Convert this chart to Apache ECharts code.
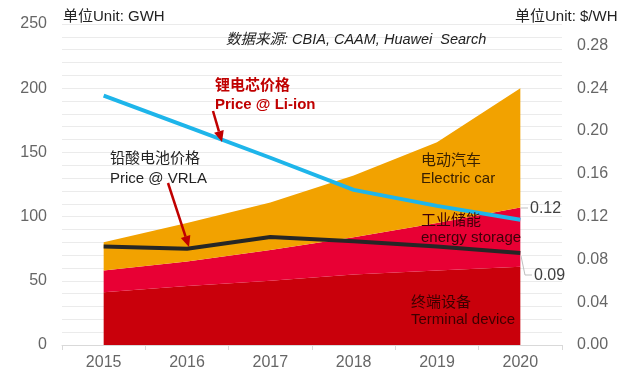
<!DOCTYPE html>
<html>
<head>
<meta charset="utf-8">
<script src="https://cdn.jsdelivr.net/npm/echarts@6/dist/echarts.min.js"></script>
<style>
html,body{margin:0;padding:0;background:#fff;}
#c{width:637px;height:382px;}
</style>
</head>
<body>
<div id="c"></div>
<script>
const years = ['2015','2016','2017','2018','2019','2020'];
const terminalDevice = [41, 46, 50, 55, 58, 61];
const energyStorage = [17, 19, 24, 29, 37, 46];
const electricCar = [22, 30, 37, 48, 63, 93];
const priceLiIon = [0.233, 0.204, 0.175, 0.145, 0.130, 0.117];
const priceVRLA = [0.092, 0.090, 0.101, 0.097, 0.092, 0.086];

const FONT = '"Liberation Sans", Arial, "Noto Sans CJK SC", sans-serif';
const chart = echarts.init(document.getElementById('c'), null, {renderer:'canvas'});

function txt(x, y, text, opts) {
  return Object.assign({
    type: 'text', left: x, top: y, z: 100,
    style: Object.assign({text: text, font: '15px ' + FONT, fill: '#222'}, opts || {})
  });
}
function arrow(x1, y1, x2, y2) {
  const ang = Math.atan2(y2 - y1, x2 - x1);
  const L = 11, W = 5;
  const bx = x2 - L * Math.cos(ang), by = y2 - L * Math.sin(ang);
  const px = -Math.sin(ang) * W, py = Math.cos(ang) * W;
  return [
    {type:'line', z:100, shape:{x1:x1, y1:y1, x2:bx, y2:by}, style:{stroke:'#C00000', lineWidth:2.5}},
    {type:'polygon', z:100, shape:{points:[[x2,y2],[bx+px,by+py],[bx-px,by-py]]}, style:{fill:'#C00000'}}
  ];
}

const option = {
  animation: false,
  backgroundColor: '#fff',
  textStyle: {fontFamily: FONT},
  grid: {left: 62, right: 75, top: 24, bottom: 37},
  xAxis: {
    type: 'category', data: years, boundaryGap: true,
    axisLine: {lineStyle: {color: '#D9D9D9'}},
    axisTick: {show: true, length: 5, lineStyle: {color: '#D9D9D9'}},
    axisLabel: {color: '#666666', fontSize: 16, margin: 10, fontFamily: FONT}
  },
  yAxis: [
    {
      type: 'value', min: 0, max: 250, interval: 10,
      axisLine: {show: false}, axisTick: {show: false},
      splitLine: {lineStyle: {color: '#EBEBEB', width: 1}},
      axisLabel: {color: '#666666', fontSize: 16, margin: 15, fontFamily: FONT,
        formatter: v => (Math.round(v) % 50 === 0 ? String(Math.round(v)) : '')}
    },
    {
      type: 'value', min: 0, max: 0.3, interval: 0.04, position: 'right',
      axisLine: {show: false}, axisTick: {show: false}, splitLine: {show: false},
      axisLabel: {color: '#666666', fontSize: 16, margin: 15, fontFamily: FONT,
        formatter: v => (Math.round(v * 100) % 4 === 0 ? v.toFixed(2) : '')}
    }
  ],
  series: [
    {name: '终端设备', type: 'line', stack: 'a', data: terminalDevice, symbol: 'none',
     lineStyle: {width: 0}, areaStyle: {color: '#C9000B', opacity: 1}, z: 2},
    {name: '工业储能', type: 'line', stack: 'a', data: energyStorage, symbol: 'none',
     lineStyle: {width: 0}, areaStyle: {color: '#E80034', opacity: 1}, z: 2},
    {name: '电动汽车', type: 'line', stack: 'a', data: electricCar, symbol: 'none',
     lineStyle: {width: 0}, areaStyle: {color: '#F2A200', opacity: 1}, z: 2},
    {name: 'Price @ VRLA', type: 'line', yAxisIndex: 1, data: priceVRLA, symbol: 'none',
     lineStyle: {width: 4, color: '#262626'}, z: 5},
    {name: 'Price @ Li-ion', type: 'line', yAxisIndex: 1, data: priceLiIon, symbol: 'none',
     lineStyle: {width: 4, color: '#1EB5EA'}, z: 6}
  ],
  graphic: [
    txt(63, 9, '单位Unit: GWH', {fill: '#222'}),
    txt(515, 9, '单位Unit: $/WH', {fill: '#222'}),
    txt(226, 33, '数据来源: CBIA, CAAM, Huawei  Search', {font: 'italic 14.5px ' + FONT, fill: '#222'}),
    txt(215, 78, '锂电芯价格', {font: 'bold 15px ' + FONT, fill: '#C00000'}),
    txt(215, 97, 'Price @ Li-ion', {font: 'bold 15px ' + FONT, fill: '#C00000'}),
    txt(110, 151, '铅酸电池价格', {fill: '#222'}),
    txt(110, 171, 'Price @ VRLA', {fill: '#222'}),
    txt(421, 153, '电动汽车', {fill: '#3A2000'}),
    txt(421, 171, 'Electric car', {fill: '#3A2000'}),
    txt(421, 213, '工业储能', {fill: '#3D0008'}),
    txt(421, 230, 'energy storage', {fill: '#3D0008'}),
    txt(411, 295, '终端设备', {fill: '#3D0000'}),
    txt(411, 312, 'Terminal device', {fill: '#3D0000'}),
    {type:'line', z:100, shape:{x1:521, y1:208, x2:528, y2:208}, style:{stroke:'#BFBFBF', lineWidth:1}},
    txt(530, 201, priceLiIon[5].toFixed(2), {font: '16px ' + FONT, fill: '#404040'}),
    {type:'polyline', z:100, shape:{points:[[521,256],[525,275],[532,275]]}, style:{stroke:'#BFBFBF', lineWidth:1, fill:null}},
    txt(534, 268, priceVRLA[5].toFixed(2), {font: '16px ' + FONT, fill: '#404040'})
  ].concat(arrow(213, 111, 222, 142)).concat(arrow(168, 183, 189, 247))
};
chart.setOption(option);
</script>
</body>
</html>
